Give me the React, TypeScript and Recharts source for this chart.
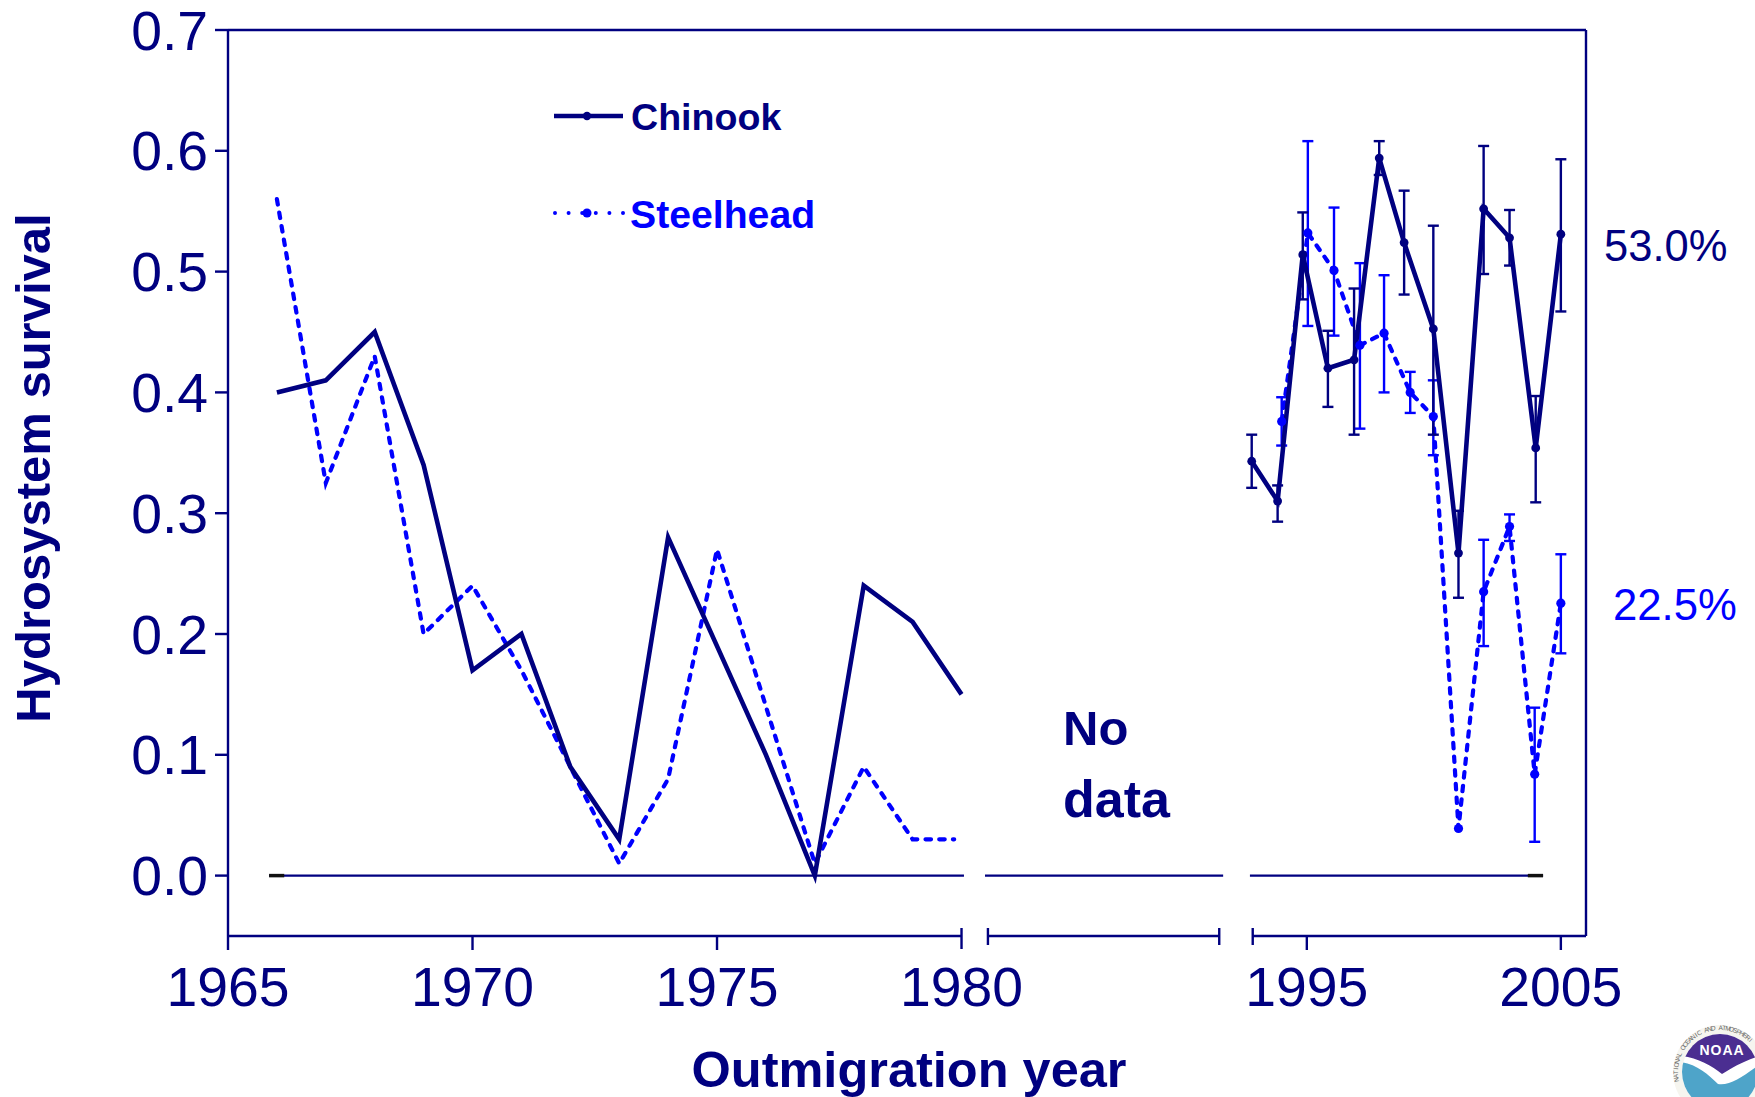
import React from "react";
import { LineChart, Line, XAxis, YAxis, ReferenceLine, ErrorBar, Legend } from "recharts";

const NAVY = "#000080";
const BLUE = "#0000ff";
const FONT = "'Liberation Sans', Arial, sans-serif";

const earlyYears = [1966, 1967, 1968, 1969, 1970, 1971, 1972, 1973, 1974, 1975, 1976, 1977, 1978, 1979, 1980];
const earlyChinook = [0.40, 0.41, 0.45, 0.34, 0.17, 0.20, 0.09, 0.03, 0.28, 0.19, 0.10, 0.00, 0.24, 0.21, 0.15];
const earlySteelheadYears = [1966, 1967, 1968, 1969, 1970, 1971, 1972, 1973, 1974, 1975, 1976, 1977, 1978, 1979, 1979.85];
const earlySteelhead = [0.56, 0.325, 0.43, 0.20, 0.24, 0.17, 0.09, 0.01, 0.08, 0.27, 0.14, 0.01, 0.09, 0.03, 0.03];

const lateChinookYears = [1992.83, 1993.85, 1994.84, 1995.83, 1996.86, 1997.85, 1998.83, 1999.98, 2000.97, 2001.96, 2002.98, 2004.01, 2005];
const lateChinook = [0.343, 0.31, 0.514, 0.42, 0.427, 0.594, 0.524, 0.4525, 0.267, 0.552, 0.528, 0.354, 0.531];
const lateChinookHigh = [0.365, 0.323, 0.549, 0.451, 0.486, 0.608, 0.567, 0.538, 0.302, 0.604, 0.551, 0.397, 0.593];
const lateChinookLow = [0.321, 0.293, 0.477, 0.388, 0.365, 0.58, 0.481, 0.365, 0.23, 0.498, 0.505, 0.309, 0.467];

const lateSteelheadYears = [1994.01, 1995.04, 1996.07, 1997.09, 1998.04, 1999.07, 1999.98, 2000.97, 2001.96, 2002.98, 2003.97, 2005];
const lateSteelhead = [0.376, 0.532, 0.501, 0.439, 0.449, 0.40, 0.38, 0.039, 0.235, 0.289, 0.084, 0.2255];
const lateSteelheadHigh = [0.396, 0.608, 0.553, 0.507, 0.497, 0.417, 0.41, null, 0.278, 0.299, 0.139, 0.266];
const lateSteelheadLow = [0.356, 0.455, 0.447, 0.37, 0.40, 0.383, 0.348, null, 0.19, 0.277, 0.028, 0.184];

const yTicks = [0, 0.1, 0.2, 0.3, 0.4, 0.5, 0.6, 0.7];
const earlyTicks = [1965, 1970, 1975, 1980, 1980.54, 1985.27];
const lateTicks = [1992.87, 1995, 2005];
const labelled = [1965, 1970, 1975, 1980, 1995, 2005];
const ringText = "NATIONAL OCEANIC AND ATMOSPHERI";

const earlyChinookRows = earlyYears.map((x, i) => ({ x, y: earlyChinook[i] }));
const earlySteelheadRows = earlySteelheadYears.map((x, i) => ({ x, y: earlySteelhead[i] }));
const withErr = (xs: number[], ys: number[], lo: (number | null)[], hi: (number | null)[]) =>
  xs.map((x, i) => ({
    x,
    y: ys[i],
    err: lo[i] == null || hi[i] == null ? undefined : [ys[i] - (lo[i] as number), (hi[i] as number) - ys[i]],
  }));
const lateChinookRows = withErr(lateChinookYears, lateChinook, lateChinookLow, lateChinookHigh);
const lateSteelheadRows = withErr(lateSteelheadYears, lateSteelhead, lateSteelheadLow, lateSteelheadHigh);

const XTick = (props: any) => {
  const { x, payload } = props;
  const y = 936;
  const v = payload.value;
  const isLabel = labelled.includes(v);
  const up = v === 1980 || !isLabel ? -8 : 0;
  const down = v === 1980 ? 13 : isLabel ? 14 : 9;
  return (
    <g>
      <line x1={x} x2={x} y1={y + up} y2={y + down} stroke={NAVY} strokeWidth={2.4} />
      {isLabel && (
        <text x={x} y={y + 70} textAnchor="middle" fontFamily={FONT} fontSize={55.3} fill={NAVY}>
          {v}
        </text>
      )}
    </g>
  );
};

const LegendBox = () => (
  <svg width={300} height={160} style={{ display: "block" }}>
    <line x1={4} x2={73} y1={26} y2={26} stroke={NAVY} strokeWidth={4.4} />
    <circle cx={37} cy={26} r={4.2} fill={NAVY} />
    <text x={81} y={40} fontFamily={FONT} fontWeight="bold" fontSize={37.6} fill={NAVY}>Chinook</text>
    <line x1={5} x2={74} y1={123} y2={123} stroke={BLUE} strokeWidth={4} strokeDasharray="0 13.6" strokeLinecap="round" />
    <circle cx={37} cy={123} r={4.5} fill={BLUE} />
    <text x={80} y={138} fontFamily={FONT} fontWeight="bold" fontSize={39.2} fill={BLUE}>Steelhead</text>
  </svg>
);

const Logo = () => (
  <g>
    <defs>
      <clipPath id="noaaInner"><circle cx={1720} cy={1072} r={38} /></clipPath>
    </defs>
    <circle cx={1720} cy={1072} r={47} fill="#f6f5ef" />
    <circle cx={1720} cy={1072} r={38} fill="#ffffff" />
    <g clipPath="url(#noaaInner)">
      <path d="M 1682 1034 H 1760 V 1056 C 1745 1060 1732 1068 1722 1074 C 1712 1066 1698 1058 1682 1056 Z" fill="#4b2e91" />
      <path d="M 1680 1062 C 1696 1064 1708 1074 1718 1084 C 1730 1086 1744 1076 1760 1064 V 1120 H 1680 Z" fill="#4ea4c9" />
    </g>
    <text x={1722} y={1055} textAnchor="middle" fontFamily={FONT} fontWeight="bold" fontSize={14} letterSpacing={1} fill="#ffffff">NOAA</text>
    {ringText.split("").map((c, i) => (
      <text
        key={i}
        x={1720}
        y={1030}
        textAnchor="middle"
        fontFamily={FONT}
        fontSize={6.5}
        fill="#666666"
        transform={`rotate(${-100 + i * 4.8} 1720 1072)`}
      >
        {c}
      </text>
    ))}
  </g>
);

const seg = (axis: string, a: number, b: number, y: number, color = NAVY, w = 2.4) => (
  <ReferenceLine
    key={`${axis}-${a}-${y}-${color}`}
    xAxisId={axis}
    ifOverflow="visible"
    stroke={color}
    strokeWidth={w}
    segment={[{ x: a, y }, { x: b, y }]}
  />
);

export default function App() {
  return (
    <div style={{ position: "absolute", left: 0, top: 0, width: 1755, height: 1097, overflow: "hidden", background: "#fff" }}>
      <LineChart
        width={1755}
        height={1097}
        margin={{ top: 30, right: 169, bottom: 159, left: 0 }}
      >
        <XAxis
          xAxisId="early"
          type="number"
          dataKey="x"
          domain={[1965, 1992.77]}
          ticks={earlyTicks}
          interval={0}
          height={1}
          axisLine={false}
          tickLine={false}
          tickSize={0}
          tickMargin={0}
          tick={XTick}
          allowDataOverflow
        />
        <XAxis
          xAxisId="late"
          type="number"
          dataKey="x"
          domain={[1952.53, 2005.99]}
          ticks={lateTicks}
          interval={0}
          height={1}
          axisLine={false}
          tickLine={false}
          tickSize={0}
          tickMargin={0}
          tick={XTick}
          allowDataOverflow
        />
        <YAxis
          type="number"
          width={228}
          domain={[-0.05, 0.7]}
          ticks={yTicks}
          interval={0}
          tickFormatter={(v: number) => v.toFixed(1)}
          tick={{ fontFamily: FONT, fontSize: 55.3, fill: NAVY }}
          tickSize={13}
          tickMargin={7}
          tickLine={{ stroke: NAVY, strokeWidth: 2.4 }}
          axisLine={{ stroke: NAVY, strokeWidth: 2.4 }}
          allowDataOverflow
        />

        {/* frame */}
        {seg("early", 1965, 1992.77, 0.7)}
        <ReferenceLine
          xAxisId="late"
          ifOverflow="visible"
          stroke={NAVY}
          strokeWidth={2.4}
          segment={[{ x: 2005.99, y: 0.7 }, { x: 2005.99, y: -0.05 }]}
        />
        {/* broken x axis */}
        {seg("early", 1965, 1980, -0.05)}
        {seg("early", 1980.54, 1985.27, -0.05)}
        {seg("late", 1992.87, 2005.99, -0.05)}
        {/* broken zero line */}
        {seg("early", 1965.84, 1980.05, 0)}
        {seg("early", 1980.48, 1985.35, 0)}
        {seg("late", 1992.76, 2004.3, 0)}
        {seg("early", 1965.84, 1966.15, 0, "#111111", 3.5)}
        {seg("late", 2003.7, 2004.3, 0, "#111111", 3.5)}

        <Line
          xAxisId="early"
          data={earlySteelheadRows}
          dataKey="y"
          name="Steelhead (early)"
          legendType="none"
          stroke={BLUE}
          strokeWidth={4.2}
          strokeDasharray="5.5 8.2"
          strokeLinecap="round"
          dot={false}
          activeDot={false}
          isAnimationActive={false}
        />
        <Line
          xAxisId="early"
          data={earlyChinookRows}
          dataKey="y"
          name="Chinook (early)"
          legendType="none"
          stroke={NAVY}
          strokeWidth={4.6}
          dot={false}
          activeDot={false}
          isAnimationActive={false}
        />
        <Line
          xAxisId="late"
          data={lateSteelheadRows}
          dataKey="y"
          name="Steelhead"
          stroke={BLUE}
          strokeWidth={4.2}
          strokeDasharray="5.5 8.2"
          strokeLinecap="round"
          dot={{ r: 4.6, fill: BLUE, stroke: BLUE, strokeWidth: 0, strokeDasharray: "none" }}
          activeDot={false}
          isAnimationActive={false}
        >
          <ErrorBar dataKey="err" direction="y" width={5.5} stroke={BLUE} strokeWidth={2.4} isAnimationActive={false} />
        </Line>
        <Line
          xAxisId="late"
          data={lateChinookRows}
          dataKey="y"
          name="Chinook"
          stroke={NAVY}
          strokeWidth={4.6}
          dot={{ r: 4.4, fill: NAVY, stroke: NAVY, strokeWidth: 0 }}
          activeDot={false}
          isAnimationActive={false}
        >
          <ErrorBar dataKey="err" direction="y" width={5.5} stroke={NAVY} strokeWidth={2.4} isAnimationActive={false} />
        </Line>

        <Legend
          layout="horizontal"
          verticalAlign="middle"
          align="center"
          content={LegendBox}
          wrapperStyle={{ left: 550, top: 90, width: 300, height: 160 }}
        />

        <text x={909} y={1087} textAnchor="middle" fontFamily={FONT} fontWeight="bold" fontSize={50.5} fill={NAVY}>Outmigration year</text>
        <text transform="translate(50 468) rotate(-90)" textAnchor="middle" fontFamily={FONT} fontWeight="bold" fontSize={49} fill={NAVY}>Hydrosystem survival</text>
        <text x={1063} y={745} fontFamily={FONT} fontWeight="bold" fontSize={49} fill={NAVY}>No</text>
        <text x={1063} y={817} fontFamily={FONT} fontWeight="bold" fontSize={52} fill={NAVY}>data</text>
        <text x={1604} y={261} fontFamily={FONT} fontSize={43.5} fill={NAVY}>53.0%</text>
        <text x={1613} y={620} fontFamily={FONT} fontSize={43.7} fill={BLUE}>22.5%</text>
        <Logo />
      </LineChart>
    </div>
  );
}
